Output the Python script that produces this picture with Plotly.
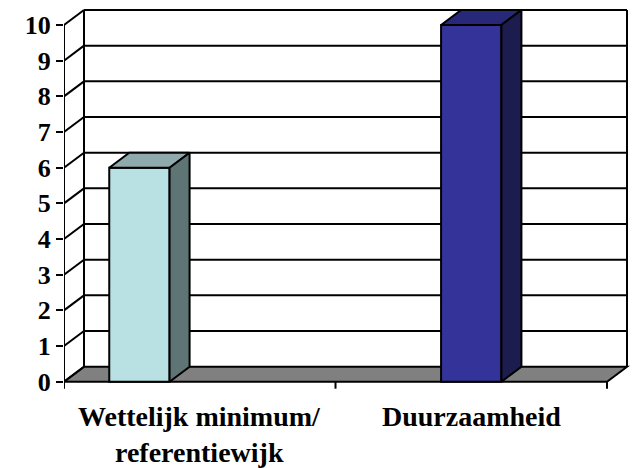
import plotly.graph_objects as go

# ---------------- data ----------------
categories = [["Wettelijk minimum/", "referentiewijk"], ["Duurzaamheid"]]
series_names = ["Serie 1", "Serie 2", "Serie 3"]
series_values = [
    [6, None],      # light cyan series
    [None, 10],     # dark blue series
    [None, None],   # empty third series
]
y_ticks = list(range(0, 11))

# ---------------- styles ----------------
front_colors = ["#B9E0E3", "#333399", "#9999FF"]
top_colors = ["#8FAAAC", "#282878", "#7777CC"]
side_colors = ["#5F7474", "#1C1C4E", "#555599"]
FONT = "Times New Roman, Liberation Serif, serif"

W, H = 632, 468
L, R, T, B = 64, 0, 0, 60
PX_PER_CAT = 271.5
PX_PER_UNIT = 35.67
ZERO_PX = 381.7
DEPTH_X_PX, DEPTH_Y_PX = 20, 15

plot_w = W - L - R
plot_h = H - T - B
x_range = [0, plot_w / PX_PER_CAT]
y_range = [-(plot_h - ZERO_PX) / PX_PER_UNIT, ZERO_PX / PX_PER_UNIT]
DX = DEPTH_X_PX / PX_PER_CAT
DY = DEPTH_Y_PX / PX_PER_UNIT
TICK = 7 / PX_PER_UNIT

n_cat = len(categories)
n_ser = len(series_values)
gap = 1.5  # excel gap width 150%
bw = 1 / (n_ser + gap)
ymax = y_ticks[-1]

fig = go.Figure()
shapes = []
line = dict(color="black", width=2)

# floor
shapes.append(dict(type="path", layer="below",
                   path=f"M 0 0 L {n_cat} 0 L {n_cat+DX} {DY} L {DX} {DY} Z",
                   fillcolor="#808080", line=dict(color="black", width=2)))
# back wall gridlines and side wall diagonals
for v in y_ticks:
    if v > 0:
        shapes.append(dict(type="line", layer="below", x0=DX, x1=n_cat + DX,
                           y0=v + DY, y1=v + DY, line=line))
    shapes.append(dict(type="line", layer="below", x0=0, x1=DX, y0=v, y1=v + DY, line=line))
# back wall edges
shapes.append(dict(type="line", layer="below", x0=DX, x1=DX, y0=DY, y1=ymax + DY, line=line))
shapes.append(dict(type="line", layer="below", x0=n_cat + DX, x1=n_cat + DX,
                   y0=DY, y1=ymax + DY, line=line))
# front value axis line + category ticks
shapes.append(dict(type="line", layer="above", x0=0, x1=0, y0=-TICK, y1=ymax, line=line))
for c in range(1, n_cat + 1):
    shapes.append(dict(type="line", layer="above", x0=c, x1=c, y0=0, y1=-TICK, line=line))

# bars (front faces) via grouped bars
for s, vals in enumerate(series_values):
    fig.add_trace(go.Bar(
        x=[c + 0.5 for c in range(n_cat)], y=vals, name=series_names[s],
        marker=dict(color=front_colors[s], line=dict(color="black", width=2)),
        showlegend=False, hoverinfo="skip"))

# 3D top / side faces
for s, vals in enumerate(series_values):
    for c, v in enumerate(vals):
        if v is None:
            continue
        xc = c + 0.5 + (s - (n_ser - 1) / 2) * bw
        x0, x1 = xc - bw / 2, xc + bw / 2
        fig.add_trace(go.Scatter(
            x=[x0, x1, x1 + DX, x0 + DX, x0], y=[v, v, v + DY, v + DY, v],
            mode="lines", fill="toself", fillcolor=top_colors[s],
            line=dict(color="black", width=2), showlegend=False, hoverinfo="skip"))
        fig.add_trace(go.Scatter(
            x=[x1, x1 + DX, x1 + DX, x1, x1], y=[0, DY, v + DY, v, 0],
            mode="lines", fill="toself", fillcolor=side_colors[s],
            line=dict(color="black", width=2), showlegend=False, hoverinfo="skip"))

annotations = []
line_centers_px = [417, 452]
for c, cat in enumerate(categories):
    for i, txt in enumerate(cat):
        annotations.append(dict(x=c + 0.5, xref="x", y=1 - line_centers_px[i] / plot_h,
                                yref="paper", yanchor="middle", xanchor="center",
                                showarrow=False, text=f"<b>{txt}</b>",
                                font=dict(family=FONT, size=28, color="black")))

fig.update_layout(
    width=W, height=H, margin=dict(l=L, r=R, t=T, b=B),
    paper_bgcolor="white", plot_bgcolor="white",
    barmode="group", bargap=gap / (n_ser + gap), bargroupgap=0,
    shapes=shapes, annotations=annotations,
    xaxis=dict(range=x_range, showgrid=False, zeroline=False, showline=False,
               showticklabels=False, ticks=""),
    yaxis=dict(range=y_range, tickvals=y_ticks, ticktext=[f"<b>{t}</b>" for t in y_ticks],
               showgrid=False, zeroline=False, showline=False,
               ticks="outside", ticklen=7, tickwidth=2, tickcolor="black",
               tickfont=dict(family=FONT, size=26, color="black")),
)

fig.write_html("out.html")
